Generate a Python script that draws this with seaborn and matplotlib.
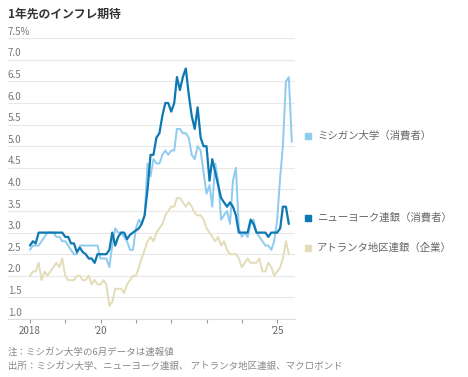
import numpy as np
import pandas as pd
import seaborn as sns
import matplotlib.pyplot as plt
import matplotlib.transforms as mtransforms

# ---- data (monthly, starting Jan 2018) ----
michigan = [2.6, 2.7, 2.7, 2.7, 2.8, 2.9, 3.0, 3.0, 3.0, 2.9, 2.9, 2.8,
            2.8, 2.7, 2.6, 2.5, 2.5, 2.7, 2.7, 2.7, 2.7, 2.7, 2.7, 2.7,
            2.4, 2.4, 2.4, 2.2, 2.7, 3.1, 3.0, 3.0, 2.9, 2.8, 2.6, 2.6,
            3.1, 3.3, 3.2, 3.4, 4.6, 4.3, 4.7, 4.6, 4.6, 4.8, 4.9, 4.8,
            4.9, 4.9, 5.4, 5.4, 5.3, 5.3, 5.2, 4.8, 4.7, 5.0, 4.9, 4.4,
            3.9, 4.1, 3.6, 4.6, 4.2, 3.3, 3.4, 3.5, 3.2, 4.2, 4.5, 3.1,
            2.9, 3.0, 2.9, 3.2, 3.3, 3.0, 2.9, 2.8, 2.7, 2.7, 2.6, 2.8,
            3.3, 4.3, 5.0, 6.5, 6.6, 5.1]
ny_fed = [2.7, 2.8, 2.75, 3.0, 3.0, 3.0, 3.0, 3.0, 3.0, 3.0, 3.0, 3.0,
          2.9, 2.9, 2.75, 2.75, 2.55, 2.65, 2.55, 2.5, 2.4, 2.4, 2.3, 2.5,
          2.5, 2.5, 2.5, 2.6, 3.0, 2.7, 2.9, 3.0, 3.0, 2.85, 2.95, 3.0,
          3.05, 3.1, 3.2, 3.4, 4.0, 4.8, 4.8, 5.2, 5.3, 5.7, 6.0, 6.0,
          5.8, 6.0, 6.6, 6.3, 6.6, 6.8, 6.2, 5.7, 5.4, 5.9, 5.2, 5.0,
          5.0, 4.2, 4.7, 4.4, 4.1, 3.8, 3.7, 3.6, 3.7, 3.6, 3.4, 3.0,
          3.0, 3.0, 3.0, 3.3, 3.2, 3.0, 3.0, 3.0, 3.0, 2.9, 3.0, 3.0,
          3.0, 3.1, 3.6, 3.6, 3.2]
atlanta = [2.0, 2.1, 2.1, 2.3, 1.9, 2.1, 2.0, 2.1, 2.2, 2.3, 2.2, 2.4,
           2.0, 1.9, 1.9, 1.9, 2.0, 2.0, 1.9, 1.9, 2.0, 1.8, 1.9, 1.8,
           1.8, 1.9, 1.8, 1.3, 1.4, 1.7, 1.7, 1.7, 1.6, 1.8, 1.9, 2.0,
           2.0, 2.2, 2.4, 2.6, 2.8, 2.9, 2.8, 3.0, 3.1, 3.2, 3.4, 3.5,
           3.6, 3.6, 3.8, 3.8, 3.7, 3.6, 3.7, 3.6, 3.45, 3.4, 3.4, 3.3,
           3.1, 3.0, 2.9, 2.8, 2.9, 2.7, 2.8, 2.6, 2.5, 2.5, 2.5, 2.4,
           2.2, 2.3, 2.4, 2.3, 2.3, 2.3, 2.4, 2.1, 2.1, 2.3, 2.2, 2.0,
           2.1, 2.2, 2.4, 2.8, 2.5]

series_names = ["ミシガン大学（消費者）", "ニューヨーク連銀（消費者）", "アトランタ地区連銀（企業）"]
colors = ["#8ecbef", "#0e78b3", "#e3dcb8"]
y_ticks = [1.0, 1.5, 2.0, 2.5, 3.0, 3.5, 4.0, 4.5, 5.0, 5.5, 6.0, 6.5, 7.0, 7.5]
x_tick_years = [2018, 2019, 2020, 2021, 2022, 2023, 2024, 2025]
x_tick_labels = ["2018", "", "’20", "", "", "", "", "’25"]

sns.set_theme(style="white")
plt.rcParams["font.family"] = ["Noto Sans CJK JP", "DejaVu Sans"]

fig = plt.figure(figsize=(4.68, 3.77), dpi=100)
ax = fig.add_axes([8 / 468, 1 - 319 / 377, 287 / 468, (319 - 38.2) / 377])

frames = []
for name, vals in zip(series_names, [michigan, ny_fed, atlanta]):
    dates = pd.date_range("2018-01-01", periods=len(vals), freq="MS")
    frames.append(pd.DataFrame({"date": dates, "value": vals, "series": name}))
df = pd.concat(frames, ignore_index=True)

order = [2, 0, 1]
widths = {0: 1.4, 1: 1.6, 2: 1.4}
for i in order:
    sub = df[df["series"] == series_names[i]]
    sns.lineplot(data=sub, x="date", y="value", color=colors[i],
                 linewidth=widths[i], ax=ax, legend=False)

ax.set_xlim(pd.Timestamp("2017-05-19"), pd.Timestamp("2025-07-04"))
ax.set_ylim(1.0, 7.5)
ax.set_xlabel("")
ax.set_ylabel("")

for s in ["top", "right", "left"]:
    ax.spines[s].set_visible(False)
ax.spines["bottom"].set_color("#dddddd")
ax.spines["bottom"].set_linewidth(0.8)

ax.set_yticks(y_ticks)
ax.yaxis.grid(True, color="#e8e8e8", linewidth=0.8)
ax.xaxis.grid(False)
ax.tick_params(axis="y", length=0, labelleft=False)

ax.set_xticks([pd.Timestamp(f"{y}-01-01") for y in x_tick_years])
ax.set_xticklabels(x_tick_labels)
ax.tick_params(axis="x", bottom=True, direction="out", length=3, width=0.8,
               color="#999999", labelsize=7, labelcolor="#666666", pad=2)

# y labels sit above each gridline
trans = mtransforms.blended_transform_factory(ax.transAxes, ax.transData)
for v in y_ticks:
    lab = f"{v:.1f}%" if v == y_ticks[-1] else f"{v:.1f}"
    ax.annotate(lab, xy=(0, v), xycoords=trans, xytext=(0, 2.5),
                textcoords="offset points", ha="left", va="baseline",
                fontsize=7, color="#777777")

# end labels
for name, vals, c in zip(series_names, [michigan, ny_fed, atlanta], colors):
    yv = vals[-1] + 0.14
    ax.plot([1.045], [yv], marker="s", ms=4.5, color=c, transform=trans,
            clip_on=False, linestyle="none")
    ax.text(1.077, yv, name, transform=trans, ha="left", va="center",
            fontsize=7.5, color="#666666")

fig.text(8 / 468, 1 - 14 / 377, "1年先のインフレ期待", fontsize=8.5,
         fontweight="bold", color="#333333", ha="left", va="center")
fig.text(8 / 468, 1 - 352 / 377, "注：ミシガン大学の6月データは速報値",
         fontsize=6.8, color="#888888", ha="left", va="center")
fig.text(8 / 468, 1 - 366 / 377,
         "出所：ミシガン大学、ニューヨーク連銀、 アトランタ地区連銀、マクロボンド",
         fontsize=6.8, color="#888888", ha="left", va="center")

fig.savefig("out.png", dpi=100)
